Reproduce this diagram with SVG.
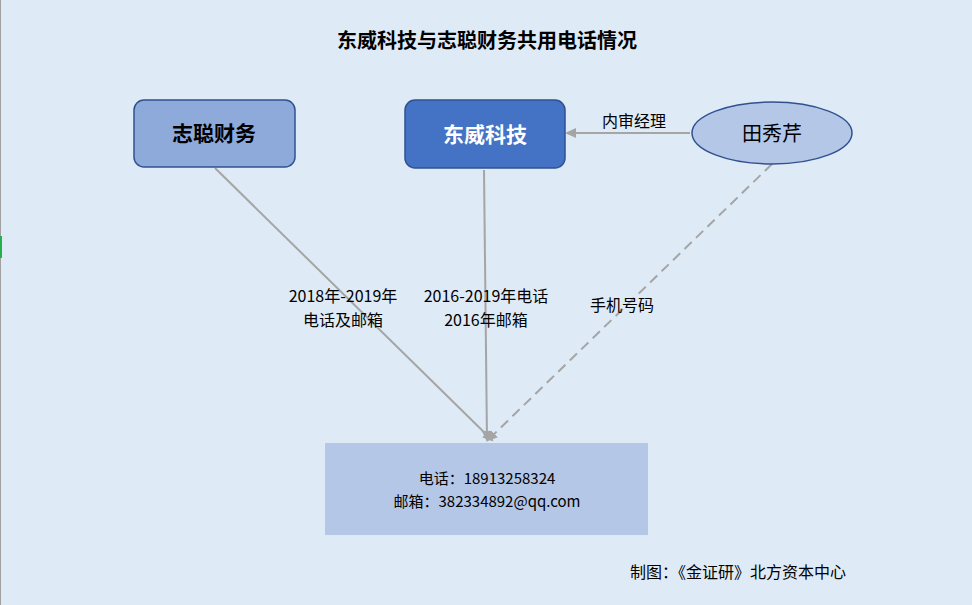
<svg xmlns="http://www.w3.org/2000/svg" width="972" height="605" viewBox="0 0 972 605">
<defs>
<style>
text{font-family:"Noto Sans CJK SC","Noto Sans",sans-serif;fill:#000}
.c{stroke:#a5a5a5;stroke-width:2;fill:none}
.l{font-size:16px;text-anchor:middle}
</style>
<marker id="a" markerWidth="12" markerHeight="12" refX="9" refY="6" orient="auto" markerUnits="userSpaceOnUse"><path d="M0,1 L11,6 L0,11 z" fill="#a5a5a5"/></marker>
</defs>
<rect width="972" height="605" fill="#deeaf6"/>
<line x1="0.5" y1="0" x2="0.5" y2="605" stroke="#a0a0a0"/>
<rect x="0" y="236" width="2" height="22" fill="#22b14c"/>
<text x="487" y="48" font-size="20" font-weight="bold" text-anchor="middle">东威科技与志聪财务共用电话情况</text>
<g id="connectors">
<line class="c" x1="215" y1="168" x2="492" y2="440" marker-end="url(#a)"/>
<line class="c" x1="484" y1="170" x2="487" y2="440" marker-end="url(#a)"/>
<line class="c" x1="772" y1="164" x2="488" y2="440" stroke="#8c8c8c" stroke-dasharray="10,6" marker-end="url(#a)"/>
<line class="c" x1="690" y1="133" x2="567" y2="133" marker-end="url(#a)"/>
<text class="l" x="634" y="127">内审经理</text>
<text class="l" x="343" y="302">2018年-2019年</text>
<text class="l" x="343" y="326">电话及邮箱</text>
<text class="l" x="486" y="302">2016-2019年电话</text>
<text class="l" x="486" y="326">2016年邮箱</text>
<text class="l" x="622" y="311">手机号码</text>
</g>
<g id="n1"><rect x="134" y="100" width="161" height="67" rx="10" fill="#8eaadb" stroke="#2f528f" stroke-width="1.5"/><text x="214" y="141" font-size="21" font-weight="bold" text-anchor="middle">志聪财务</text></g>
<g id="n2"><rect x="405" y="100" width="160" height="68" rx="10" fill="#4472c4" stroke="#2f528f" stroke-width="1.5"/><text x="485" y="142" font-size="21" font-weight="bold" text-anchor="middle" style="fill:#fff">东威科技</text></g>
<g id="n3"><ellipse cx="772" cy="133" rx="80" ry="31" fill="#b4c7e7" stroke="#2f528f" stroke-width="1.5"/><text x="772" y="141" font-size="20" text-anchor="middle">田秀芹</text></g>
<g id="n4"><rect x="325" y="443" width="323" height="92" fill="#b4c7e7"/><text x="487" y="484" font-size="15" text-anchor="middle">电话：18913258324</text><text x="487" y="507" font-size="15" text-anchor="middle">邮箱：382334892@qq.com</text></g>
<text x="738" y="578" font-size="16" text-anchor="middle">制图：《金证研》北方资本中心</text>
</svg>
